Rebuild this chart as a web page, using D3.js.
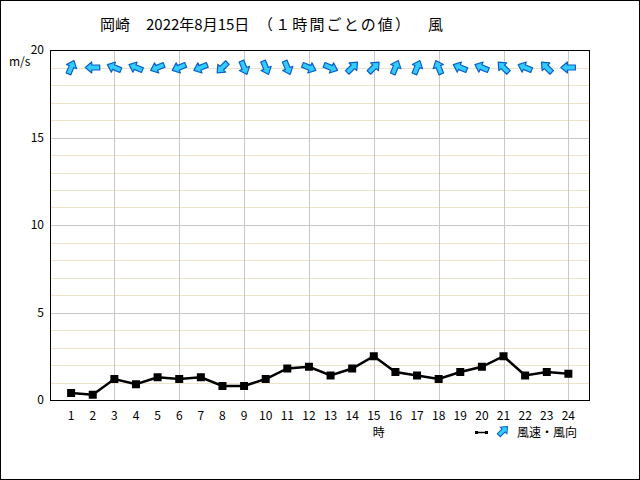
<!DOCTYPE html>
<html><head><meta charset="utf-8">
<script src="https://cdn.jsdelivr.net/npm/d3@7"></script>
<style>body{margin:0;background:#fff}svg{display:block}</style>
</head><body>
<svg id="c" width="640" height="480"></svg>
<script>
const hours = [1,2,3,4,5,6,7,8,9,10,11,12,13,14,15,16,17,18,19,20,21,22,23,24];
const speed = [0.4,0.3,1.2,0.9,1.3,1.2,1.3,0.8,0.8,1.2,1.8,1.9,1.4,1.8,2.5,1.6,1.4,1.2,1.6,1.9,2.5,1.4,1.6,1.5];
const direction = ["南南西","東","東南東","東南東","東北東","東北東","東北東","北東","北北西","北北西","北北西","西北西","西北西","南西","南西","南南西","南南西","南南東","東南東","東南東","南東","東南東","南東","東"];
const compass = ["北","北北東","北東","東北東","東","東南東","南東","南南東","南","南南西","南西","西南西","西","西北西","北西","北北西"];
const yTicks = [0,5,10,15,20];
const title = ["岡崎","2022年8月15日","（１時間ごとの値）","風"];

const svg = d3.select("#c");
const font = "'Noto Sans CJK JP', sans-serif";
const x = d3.scaleLinear().domain([0,25]).range([49.5,590]);
const y = d3.scaleLinear().domain([0,20]).range([400,50]);
const L=50, R=590, T=50, B=400;

svg.append("rect").attr("x",0.5).attr("y",0.5).attr("width",639).attr("height",479)
  .attr("fill","#fff").attr("stroke","#000");

const g = svg.append("g").attr("shape-rendering","crispEdges");
d3.range(1,20).filter(v=>v%5!==0).forEach(v=>{
  g.append("line").attr("x1",L).attr("x2",R).attr("y1",Math.round(y(v))+0.5).attr("y2",Math.round(y(v))+0.5)
   .attr("stroke","#ece3cb");
});
[5,10,15].forEach(v=>{
  g.append("line").attr("x1",L).attr("x2",R).attr("y1",Math.round(y(v))+0.5).attr("y2",Math.round(y(v))+0.5)
   .attr("stroke","#c8c8c8");
});
hours.filter(h=>h%3===0).forEach(h=>{
  g.append("line").attr("y1",T).attr("y2",B).attr("x1",Math.round(x(h))+0.5).attr("x2",Math.round(x(h))+0.5)
   .attr("stroke","#c8c8c8");
});

svg.append("rect").attr("x",L+0.5).attr("y",T+0.5).attr("width",R-L-1).attr("height",B-T)
  .attr("fill","none").attr("stroke","#000").attr("shape-rendering","crispEdges");

yTicks.forEach(v=>{
  svg.append("text").attr("x",44).attr("y",y(v)+4).attr("text-anchor","end")
    .attr("font-family",font).attr("font-size",12).text(v);
});
svg.append("text").attr("x",9).attr("y",66).attr("font-family",font).attr("font-size",12).text("m/s");

hours.forEach(h=>{
  svg.append("text").attr("x",x(h)).attr("y",420).attr("text-anchor","middle")
    .attr("font-family",font).attr("font-size",12).text(h);
});
svg.append("text").attr("x",x(15)+5).attr("y",437).attr("text-anchor","middle")
  .attr("font-family",font).attr("font-size",12).text("時");

const tx=[100,146,258,428];
const tl=[null,null,152,null];
title.forEach((t,i)=>{
  const el = svg.append("text").attr("x",tx[i]).attr("y",30).attr("font-family",font).attr("font-size",15).text(t);
  if (tl[i]) el.attr("textLength",tl[i]).attr("lengthAdjust","spacing");
});

const line = d3.line().x((d,i)=>x(hours[i])).y(d=>y(d));
svg.append("path").datum(speed).attr("d",line).attr("fill","none").attr("stroke","#000").attr("stroke-width",2.5);
svg.selectAll("rect.m").data(speed).enter().append("rect").attr("class","m")
  .attr("x",(d,i)=>x(hours[i])-4).attr("y",d=>y(d)-4).attr("width",8).attr("height",8).attr("fill","#000");

const arrowPath = "M0,-7.5 L5.5,-1 L2.5,-1 L2.5,7 L-2.5,7 L-2.5,-1 L-5.5,-1 Z";
direction.forEach((d,i)=>{
  const ang = compass.indexOf(d)*22.5 + 180;
  svg.append("path").attr("d",arrowPath)
    .attr("transform",`translate(${x(hours[i])},${y(19)}) rotate(${ang})`)
    .attr("fill","#33ccff").attr("stroke","#0a5fc8").attr("stroke-width",1.2).attr("stroke-linejoin","round");
});

svg.append("line").attr("x1",476).attr("x2",487).attr("y1",432.5).attr("y2",432.5).attr("stroke","#000").attr("stroke-width",1.5);
svg.append("rect").attr("x",475).attr("y",431).attr("width",3).attr("height",3).attr("fill","#000");
svg.append("rect").attr("x",485).attr("y",431).attr("width",3).attr("height",3).attr("fill","#000");
svg.append("path").attr("d",arrowPath).attr("transform","translate(503,431) rotate(45) scale(0.85)")
  .attr("fill","#33ccff").attr("stroke","#0a5fc8").attr("stroke-width",1.2);
svg.append("text").attr("x",517).attr("y",437).attr("font-family",font).attr("font-size",12).text("風速・風向");
</script>
</body></html>
